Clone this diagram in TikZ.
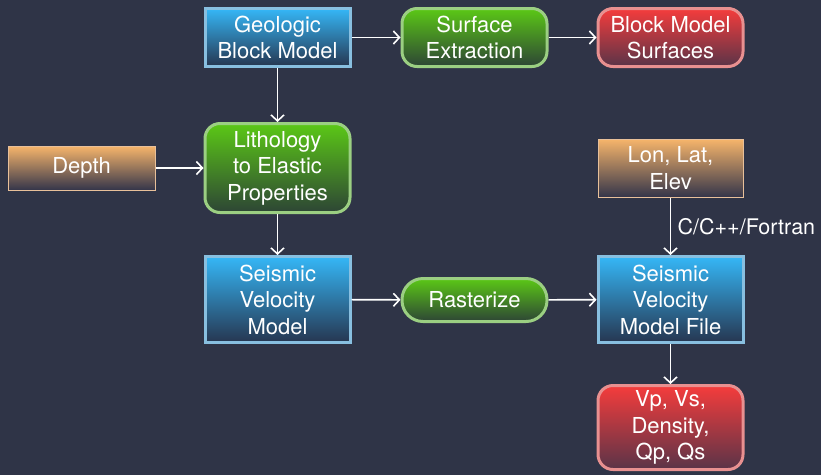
\documentclass[tikz,border=0pt]{standalone}
\usepackage{fontspec}
\setmainfont{TeX Gyre Heros}
\usetikzlibrary{arrows.meta}
\definecolor{bg}{HTML}{2F3447}
\definecolor{bluetop}{HTML}{35B7F7}
\definecolor{bluebot}{HTML}{263650}
\definecolor{blueline}{HTML}{88BFE0}
\definecolor{greentop}{HTML}{5BC816}
\definecolor{greenbot}{HTML}{2D4535}
\definecolor{greenline}{HTML}{9BCF82}
\definecolor{redtop}{HTML}{F53C3C}
\definecolor{redbot}{HTML}{5A3448}
\definecolor{redline}{HTML}{E89090}
\definecolor{orangetop}{HTML}{F7B56B}
\definecolor{orangebot}{HTML}{34354A}
\definecolor{orangeline}{HTML}{E8C09A}
\tikzset{
  base/.style={text=white, align=center, inner sep=0pt,
    font=\fontsize{22}{26.5}\selectfont, minimum width=145pt},
  bluebox/.style={base, draw=blueline, line width=3pt,
    top color=bluetop, bottom color=bluebot},
  greenbox/.style={base, draw=greenline, line width=3pt, rounded corners=15pt,
    top color=greentop, bottom color=greenbot},
  redbox/.style={base, draw=redline, line width=3pt, rounded corners=15pt,
    top color=redtop, bottom color=redbot},
  orangebox/.style={base, draw=orangeline, line width=1pt,
    top color=orangetop, bottom color=orangebot},
  conn/.style={draw=white, line width=1.6pt, -{Straight Barb[length=6pt,width=13pt,line width=1.6pt]}},
}
\begin{document}
\begin{tikzpicture}[x=1pt,y=1pt]
\fill[bg] (0,0) rectangle (821,-475);
\useasboundingbox (0,0) rectangle (821,-475);
\node[bluebox, minimum height=58pt] (geo) at (277.5,-37.5) {Geologic\\Block Model};
\node[greenbox, minimum height=58pt] (surf) at (474.5,-37.5) {Surface\\Extraction};
\node[redbox, minimum height=58pt] (bms) at (670.5,-37.5) {Block Model\\Surfaces};
\node[orangebox, minimum width=147pt, minimum height=44pt] (depth) at (81.5,-168) {Depth};
\node[greenbox, minimum height=89pt] (lith) at (277.5,-168) {Lithology\\to Elastic\\Properties};
\node[orangebox, minimum width=145pt, minimum height=58pt] (lon) at (670.5,-168) {Lon, Lat,\\Elev};
\node[bluebox, minimum height=86pt] (svm) at (277.5,-299.5) {Seismic\\Velocity\\Model};
\node[greenbox, minimum height=43pt, rounded corners=21pt] (rast) at (474.5,-300) {Rasterize};
\node[bluebox, minimum height=86pt] (svmf) at (670.5,-299.5) {Seismic\\Velocity\\Model File};
\node[redbox, minimum height=84pt] (vp) at (670.5,-427.5) {Vp, Vs,\\Density,\\Qp, Qs};
\draw[conn] (geo) -- (surf);
\draw[conn] (surf) -- (bms);
\draw[conn] (geo) -- (lith);
\draw[conn] (depth) -- (lith);
\draw[conn] (lith) -- (svm);
\draw[conn] (svm) -- (rast);
\draw[conn] (rast) -- (svmf);
\draw[conn] (lon) -- node[right, text=white, font=\fontsize{21.5}{24}\selectfont, xshift=3pt] {C/C++/Fortran} (svmf);
\draw[conn] (svmf) -- (vp);
\end{tikzpicture}
\end{document}
